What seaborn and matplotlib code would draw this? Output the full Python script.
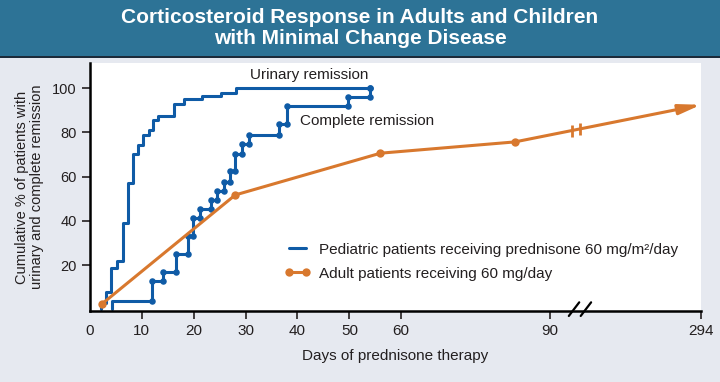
import numpy as np
import matplotlib.pyplot as plt
import matplotlib.patches as mpatches
from matplotlib.lines import Line2D
import seaborn as sns

sns.set_theme(style="white")
plt.rcParams['font.family'] = ['Liberation Sans', 'DejaVu Sans']
ink = '#231F20'
plt.rcParams['text.color'] = ink
plt.rcParams['axes.labelcolor'] = ink
plt.rcParams['xtick.color'] = ink
plt.rcParams['ytick.color'] = ink

blue = '#0F5BA6'
orange = '#D8782E'

# values
urinary_days = [2.2, 2.2, 3.1, 4.1, 5.3, 6.3, 7.3, 8.2, 9.2, 10.3, 11.3, 12.1, 13.1,
                16.1, 18.2, 21.5, 25.2, 28.2, 54.0]
urinary_pct = [0, 2.7, 8.0, 18.6, 22.0, 39.2, 57.3, 70.3, 74.4, 78.9, 81.1, 85.4, 87.6,
               92.9, 95.0, 96.6, 98.0, 100, 100]

complete_days = [4.3, 4.3, 12.0, 14.1, 16.6, 18.8, 19.9, 21.2, 23.4, 24.5, 25.8, 26.9,
                 28.0, 29.3, 30.7, 36.5, 37.9, 49.7, 54.0]
complete_pct = [0, 3.8, 12.6, 16.7, 24.8, 33.3, 41.3, 45.3, 49.2, 53.7, 57.7, 62.5,
                70.3, 74.8, 78.9, 83.7, 92.1, 95.9, 100]

adult_days = [2.3, 28, 56, 83, 294]
adult_pct = [2.4, 51.7, 70.6, 75.7, 92.5]

x_ticks = [0, 10, 20, 30, 40, 50, 60, 90, 294]
y_ticks = [20, 40, 60, 80, 100]

# broken x axis: days 90-294 squeezed into a short stretch
day_knots = [0, 60, 90, 294]
pos_knots = [0, 311.3, 459.6, 611.1]
line_break_days = [120, 131]
axis_break_days = [123, 139]


def piecewise(v, xs, ys):
    v = np.asarray(v, dtype=float)
    out = np.interp(v, xs, ys)
    out = np.where(v < xs[0], ys[0] + (v - xs[0]) * (ys[1] - ys[0]) / (xs[1] - xs[0]), out)
    out = np.where(v > xs[-1], ys[-1] + (v - xs[-1]) * (ys[-1] - ys[-2]) / (xs[-1] - xs[-2]), out)
    return out


def fwd(d):
    return piecewise(d, day_knots, pos_knots)


def inv(p):
    return piecewise(p, pos_knots, day_knots)


fig = plt.figure(figsize=(7.2, 3.82), dpi=100, facecolor='#E6E9F0')
ax = fig.add_axes([90 / 720, 1 - 311 / 382, 611 / 720, 248 / 382])
ax.set_facecolor('white')
ax.set_xscale('function', functions=(fwd, inv))

# title band
fig.patches.append(mpatches.Rectangle((0, 1 - 56 / 382), 1, 56 / 382, transform=fig.transFigure,
                                      facecolor='#2D7396', edgecolor='none', zorder=0))
fig.patches.append(mpatches.Rectangle((0, 1 - 58 / 382), 1, 2 / 382, transform=fig.transFigure,
                                      facecolor='#1C2B3A', edgecolor='none', zorder=0))
fig.text(0.5, 1 - 28 / 382, 'Corticosteroid Response in Adults and Children\nwith Minimal Change Disease',
         ha='center', va='center', color='white', fontsize=15, fontweight='bold', linespacing=1.1)

# pediatric curves
sns.lineplot(x=urinary_days, y=urinary_pct, drawstyle='steps-post', color=blue, lw=2.2,
             estimator=None, sort=False, ax=ax)
sns.lineplot(x=complete_days, y=complete_pct, drawstyle='steps-post', color=blue, lw=2.2,
             estimator=None, sort=False, ax=ax)

cd = np.array(complete_days)
cp = np.array(complete_pct)
dot_x = np.concatenate([cd[2:], cd[2:]])
dot_y = np.concatenate([cp[1:-1], cp[2:]])
sns.scatterplot(x=dot_x, y=dot_y, color=blue, s=22, linewidth=0, ax=ax, zorder=3)
sns.scatterplot(x=[urinary_days[-1]], y=[urinary_pct[-1]], color=blue, s=22, linewidth=0, ax=ax, zorder=3)

# adult curve
sns.lineplot(x=adult_days[:-1], y=adult_pct[:-1], color=orange, lw=2.2, marker='o', markersize=6,
             markeredgewidth=0, estimator=None, sort=False, ax=ax, zorder=4)
ax.annotate('', xy=(adult_days[-1], adult_pct[-1]), xytext=(adult_days[-2], adult_pct[-2]),
            arrowprops=dict(arrowstyle='-|>,head_length=1.3,head_width=0.3', color=orange, lw=2.2,
                            shrinkA=0, shrinkB=0, mutation_scale=10),
            annotation_clip=False, zorder=4)
brk_y = np.interp(fwd(line_break_days), fwd(adult_days[-2:]), adult_pct[-2:])
ax.plot(line_break_days, brk_y, ls='none', marker='|', markersize=9, markeredgewidth=2,
        color=orange, zorder=5)

ax.text(30.8, 105.8, 'Urinary remission', fontsize=11, va='center')
ax.text(40.5, 85.2, 'Complete remission', fontsize=11, va='center')

ax.set_xlim(0, 294)
ax.set_ylim(-0.8, 111.4)
ax.set_xticks(x_ticks)
ax.set_xticklabels([str(t) for t in x_ticks], fontsize=11)
ax.set_yticks(y_ticks)
ax.set_yticklabels([str(t) for t in y_ticks], fontsize=10.5)
ax.tick_params(axis='both', bottom=True, left=True, direction='out', length=6, width=1.2, colors=ink)
ax.xaxis.get_major_ticks()[0].tick1line.set_visible(False)

for side in ['top', 'right']:
    ax.spines[side].set_visible(False)
for side in ['left', 'bottom']:
    ax.spines[side].set_color('black')
    ax.spines[side].set_linewidth(1.8)

# axis break marks
xt = ax.get_xaxis_transform()
for d in axis_break_days:
    ax.plot([d - 7, d + 7], [-0.02, 0.035], color='black', lw=1.6, transform=xt, clip_on=False)

ax.set_xlabel('Days of prednisone therapy', fontsize=11, labelpad=8)
ax.set_ylabel('Cumulative % of patients with\nurinary and complete remission', fontsize=10.5,
              labelpad=6, linespacing=1.1)

handles = [Line2D([], [], color=blue, lw=2.2),
           Line2D([], [], color=orange, lw=2.2, marker='o', markersize=6, markeredgewidth=0)]
labels = ['Pediatric patients receiving prednisone 60 mg/m\u00b2/day',
          'Adult patients receiving 60 mg/day']
ax.legend(handles, labels, loc='upper left', bbox_to_anchor=(0.318, 0.275), frameon=False,
          fontsize=11, handlelength=1.7, handletextpad=0.6, labelspacing=0.65, numpoints=2,
          borderaxespad=0, borderpad=0)

fig.savefig('out.png', dpi=100, facecolor=fig.get_facecolor())
